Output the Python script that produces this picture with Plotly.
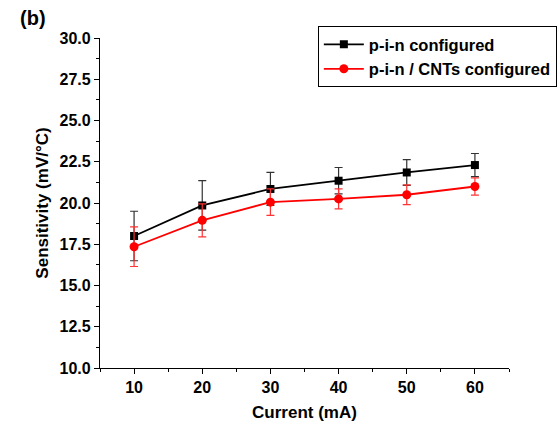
import plotly.graph_objects as go

# Sensitivity vs drive current for the two diode configurations
current_ma = [10, 20, 30, 40, 50, 60]

pin_sensitivity = [18.0, 19.85, 20.85, 21.35, 21.85, 22.3]
pin_error = [1.5, 1.5, 1.0, 0.8, 0.78, 0.7]

cnt_sensitivity = [17.35, 18.95, 20.05, 20.25, 20.5, 21.0]
cnt_error = [1.2, 1.0, 0.8, 0.6, 0.6, 0.52]

y_ticks = [10.0, 12.5, 15.0, 17.5, 20.0, 22.5, 25.0, 27.5, 30.0]
x_ticks = [10, 20, 30, 40, 50, 60]

FONT = "Liberation Sans, Arial, sans-serif"

fig = go.Figure()

fig.add_trace(go.Scatter(
    x=current_ma, y=pin_sensitivity,
    mode="lines+markers",
    name="p-i-n configured",
    line=dict(color="black", width=1.8),
    marker=dict(symbol="square", size=8, color="black"),
    error_y=dict(type="data", array=pin_error, visible=True,
                 color="#333333", thickness=1.2, width=4),
))

fig.add_trace(go.Scatter(
    x=current_ma, y=cnt_sensitivity,
    mode="lines+markers",
    name="p-i-n / CNTs configured",
    line=dict(color="red", width=1.8),
    marker=dict(symbol="circle", size=9, color="red"),
    error_y=dict(type="data", array=cnt_error, visible=True,
                 color="#ff3333", thickness=1.2, width=4),
))

axis_font = dict(family=FONT, size=16, color="black", weight="bold")
title_font = dict(family=FONT, size=17, color="black", weight="bold")

fig.update_xaxes(
    range=[5, 65],
    tickvals=x_ticks,
    ticktext=[str(v) for v in x_ticks],
    ticks="outside", ticklen=5, tickwidth=1.2, tickcolor="black",
    minor=dict(ticks="outside", tickvals=[5, 15, 25, 35, 45, 55, 65],
               ticklen=3, tickwidth=1.2, tickcolor="black"),
    showline=True, linecolor="black", linewidth=1.2,
    showgrid=False, zeroline=False, automargin=False,
    tickfont=axis_font,
    title=dict(text="Current (mA)", font=title_font, standoff=10),
)

fig.update_yaxes(
    range=[10, 30],
    tickvals=y_ticks,
    ticktext=[f"{v:.1f}" for v in y_ticks],
    ticks="outside", ticklen=5, tickwidth=1.2, tickcolor="black",
    minor=dict(ticks="outside", dtick=1.25, ticklen=3, tickwidth=1.2, tickcolor="black"),
    showline=True, linecolor="black", linewidth=1.2,
    showgrid=False, zeroline=False, automargin=False,
    tickfont=axis_font,
    title=dict(text="Sensitivity (mV/°C)", font=title_font, standoff=6),
)

fig.add_annotation(
    text="(b)", xref="paper", yref="paper",
    x=-0.2, y=1.06, xanchor="left", yanchor="middle",
    showarrow=False,
    font=dict(family=FONT, size=20, color="black", weight="bold"),
)

fig.update_layout(
    width=559, height=427,
    margin=dict(l=100, r=50, t=38, b=59, autoexpand=False),
    paper_bgcolor="white", plot_bgcolor="white",
    showlegend=True,
    legend=dict(
        x=1.117, y=1.036, xanchor="right", yanchor="top",
        bordercolor="black", borderwidth=1, bgcolor="white",
        font=dict(family=FONT, size=16.5, color="black", weight="bold"),
        tracegroupgap=0, itemwidth=40,
    ),
)

fig.write_html("out.html")
